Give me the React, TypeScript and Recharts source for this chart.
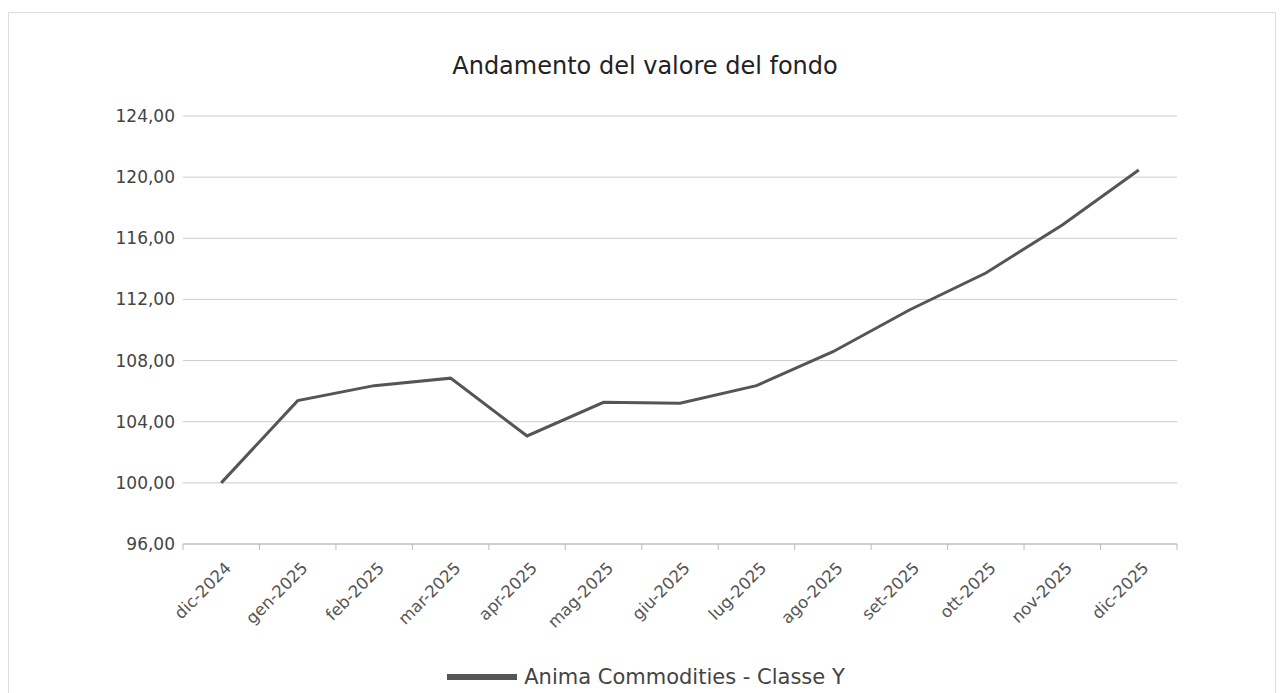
import React from 'react'
import { LineChart, Line, XAxis, YAxis, CartesianGrid, Legend } from 'recharts'

const months = [
  'dic-2024', 'gen-2025', 'feb-2025', 'mar-2025', 'apr-2025', 'mag-2025', 'giu-2025',
  'lug-2025', 'ago-2025', 'set-2025', 'ott-2025', 'nov-2025', 'dic-2025',
]
const fundValues = [100.0, 105.38, 106.36, 106.85, 103.07, 105.27, 105.21, 106.36, 108.58, 111.31, 113.73, 116.87, 120.47]
const yTicks = [96, 100, 104, 108, 112, 116, 120, 124]
const seriesName = 'Anima Commodities - Classe Y'

const data = months.map((m, i) => ({ month: m, value: fundValues[i] }))

const FONT = '"DejaVu Sans", Verdana, sans-serif'
const fmt = (v: number) => v.toFixed(2).replace('.', ',')

const MonthTick = (props: any) => {
  const { x, y, payload, index, visibleTicksCount } = props
  const half = payload?.offset ?? 38.2
  return (
    <g>
      <line x1={x - half} x2={x - half} y1={y - 8} y2={y - 2} stroke="#bbb" />
      {index === visibleTicksCount - 1 && (
        <line x1={x + half} x2={x + half} y1={y - 8} y2={y - 2} stroke="#bbb" />
      )}
      <text
        x={x + 11}
        y={y + 17}
        transform={`rotate(-45, ${x + 11}, ${y + 17})`}
        textAnchor="end"
        fill="#555"
        fontSize={16.5}
        fontFamily={FONT}
      >
        {payload.value}
      </text>
    </g>
  )
}

const LegendBox = () => (
  <div style={{ display: 'flex', alignItems: 'center', justifyContent: 'center', fontFamily: FONT }}>
    <span style={{ display: 'inline-block', width: 70, height: 6, background: '#555', marginRight: 7 }} />
    <span style={{ fontSize: 21, color: '#444' }}>{seriesName}</span>
  </div>
)

export default function App() {
  return (
    <div
      style={{
        position: 'absolute',
        left: 8,
        top: 12,
        width: 1266,
        height: 700,
        border: '1px solid #ddd',
        background: '#fff',
        overflow: 'hidden',
      }}
    >
      <div
        style={{
          position: 'absolute',
          top: 39,
          left: 3,
          width: 1266,
          textAlign: 'center',
          fontFamily: FONT,
          fontSize: 24,
          color: '#222',
        }}
      >
        Andamento del valore del fondo
      </div>
      <LineChart width={1266} height={680} data={data} margin={{ top: 103, right: 98, left: 0, bottom: 0 }}>
        <CartesianGrid vertical={false} stroke="#ccc" />
        <XAxis
          dataKey="month"
          scale="band"
          height={149}
          tickLine={false}
          axisLine={{ stroke: '#bbb' }}
          interval={0}
          tick={<MonthTick />}
        />
        <YAxis
          width={174}
          domain={[96, 124]}
          ticks={yTicks}
          tickFormatter={fmt}
          axisLine={false}
          tickLine={false}
          tick={{ fill: '#444', fontSize: 17, fontFamily: FONT }}
        />
        <Legend
          verticalAlign="middle"
          layout="horizontal"
          wrapperStyle={{ position: 'absolute', top: 652, left: 4, width: 1266 }}
          content={<LegendBox />}
        />
        <Line
          type="linear"
          dataKey="value"
          name={seriesName}
          stroke="#555"
          strokeWidth={3}
          dot={false}
          activeDot={false}
          isAnimationActive={false}
        />
      </LineChart>
    </div>
  )
}
